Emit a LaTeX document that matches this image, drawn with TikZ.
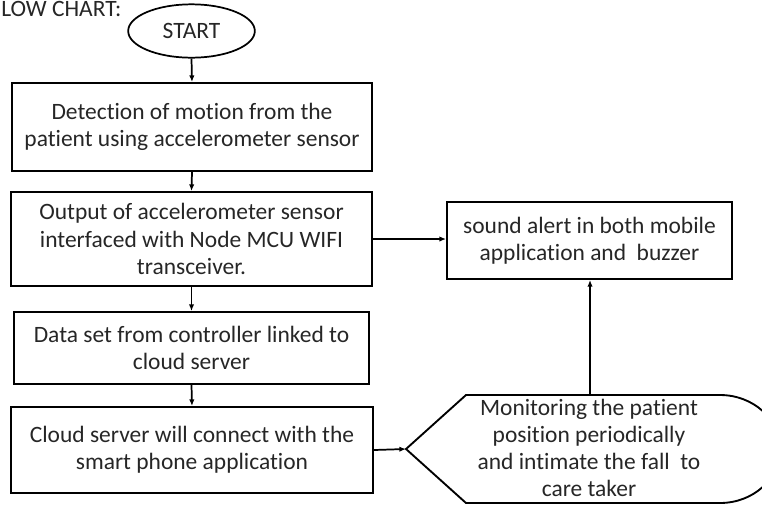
\documentclass[tikz,border=0pt]{standalone}
\usepackage{fontspec}
\setmainfont{Carlito}[Ligatures=NoCommon]
\usepackage{tikz}
\usetikzlibrary{arrows.meta,positioning,shapes.geometric}
\definecolor{TextColor}{RGB}{38,38,38}
\tikzset{
  stepbox/.style={draw, line width=1.4pt, align=center, inner sep=0pt, text=TextColor},
  startoval/.style={ellipse, draw, line width=1.3pt, inner sep=0pt, text=TextColor,
    minimum width=95pt, minimum height=40pt},
  flowarrow/.style={->, line width=1.3pt},
}

\begin{document}
\begin{tikzpicture}[x=0.75pt, y=-0.75pt, >={Latex[length=5pt,width=4pt]},
    every node/.style={font=\fontsize{17.6}{20.4}\selectfont}]
      \clip (0,0) rectangle (762,504);
      \node[anchor=base west, text=TextColor, inner sep=0pt] (title) at (1,16) {LOW CHART:};
      \node[startoval] (start) at (191.5,31) {START};
      \node[stepbox, minimum width=270pt, minimum height=66pt] (detect) at (192,127)
        {Detection of motion from the\\patient using accelerometer sensor};
      \node[stepbox, minimum width=270.75pt, minimum height=70.5pt] (output) at (191.5,239)
        {Output of accelerometer sensor\\interfaced with Node MCU WIFI\\transceiver.};
      \node[stepbox, minimum width=266.25pt, minimum height=54pt] (data) at (191.5,348)
        {Data set from controller linked to\\cloud server};
      \node[stepbox, minimum width=271.5pt, minimum height=64.5pt] (cloud) at (192,450)
        {Cloud server will connect with the\\smart phone application};
      \node[stepbox, minimum width=213.75pt, minimum height=57.75pt] (alert) at (589.5,240.5)
        {sound alert in both mobile\\application and\ \ buzzer};
      % display shape for the monitoring step
      \coordinate (montip) at (406,449);
      \coordinate (montop) at (590,395);
      \draw[line width=1.4pt] (montip) -- (466,395) -- (720,395)
        .. controls (753,395) and (780,419) .. (780,449)
        .. controls (780,479) and (753,503) .. (720,503) -- (466,503) -- cycle;
      \node[align=center, text=TextColor, inner sep=0pt] (monitor) at (589,448)
        {Monitoring the patient\\position periodically\\and intimate the fall\ \ to\\care taker};
      \draw[flowarrow] (start.south) -- (detect.north);
      \draw[flowarrow] (detect.south) -- (output.north);
      \draw[flowarrow] (output.south) -- (data.north);
      \draw[flowarrow] (data.south) -- (cloud.north);
      \draw[flowarrow] (output.east) -- (output.east -| alert.west);
      \draw[flowarrow] (cloud.east) -- (montip);
      \draw[flowarrow] (montop) -- (montop |- alert.south);
    \end{tikzpicture}
\end{document}
